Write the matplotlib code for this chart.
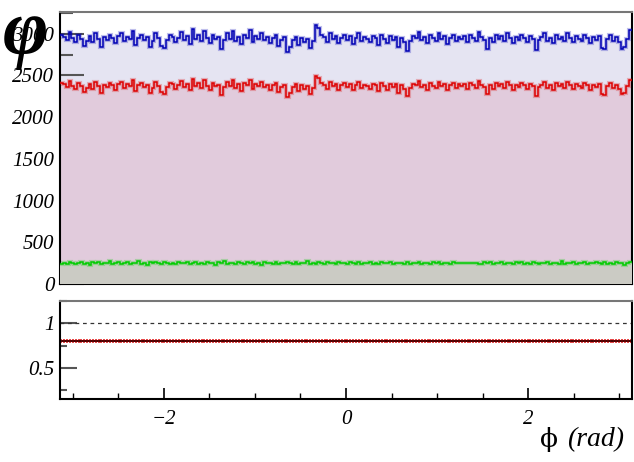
import numpy as np
import matplotlib
matplotlib.use("Agg")
import matplotlib.pyplot as plt
from matplotlib.ticker import MultipleLocator

# bin contents (200 bins over -pi..pi)
blue = [
    2990, 2965, 2927, 3015, 2953, 2903, 2990, 2940, 2853, 2915, 2977, 2903, 3003, 2940, 2840, 2965, 2927, 2990, 2953, 2890,
    2977, 3003, 2915, 2965, 2940, 3027, 2865, 2953, 2990, 2927, 2965, 2835, 2915, 3003, 2953, 2853, 2825, 2927, 2990, 2965,
    2903, 2953, 3015, 2927, 2977, 2877, 3053, 2940, 2990, 2915, 3027, 2953, 2890, 2990, 2940, 2965, 2815, 2927, 3003, 2940,
    3027, 2915, 2965, 2877, 2990, 2953, 3040, 2903, 2977, 2940, 3003, 2927, 2965, 2890, 2953, 2990, 2853, 2927, 2965, 2775,
    2840, 2927, 2965, 2865, 2953, 2903, 2940, 2827, 2915, 3100, 3065, 2990, 2965, 2903, 3003, 2940, 2977, 2890, 2953, 2990,
    2927, 2977, 2877, 2953, 3003, 2915, 2965, 2940, 2903, 2977, 2953, 2865, 2990, 2940, 2890, 2977, 2927, 2965, 2840, 2953,
    2903, 2790, 2915, 2977, 2953, 3015, 2927, 2965, 2890, 2990, 2953, 2915, 3003, 2940, 2977, 2877, 2953, 2990, 2915, 2965,
    2940, 2977, 2903, 2990, 2953, 2915, 3015, 2965, 2927, 2820, 2953, 2903, 2990, 2940, 2977, 2915, 3003, 2953, 2890, 2965,
    2927, 2990, 2953, 2903, 2977, 2940, 2800, 2927, 2965, 3003, 2915, 2953, 2890, 2990, 2940, 2965, 2915, 3003, 2953, 2903,
    2977, 2940, 2915, 2990, 2953, 2890, 2965, 2927, 2977, 2830, 2815, 2940, 2990, 2915, 2965, 2903, 2820, 2840, 2940, 3040,
]
red = [
    2410, 2392, 2358, 2432, 2378, 2342, 2412, 2368, 2302, 2350, 2400, 2340, 2418, 2372, 2290, 2388, 2360, 2412, 2380, 2330,
    2400, 2420, 2350, 2392, 2370, 2440, 2310, 2380, 2410, 2360, 2388, 2286, 2352, 2422, 2378, 2300, 2278, 2360, 2408, 2392,
    2340, 2382, 2430, 2358, 2400, 2320, 2460, 2370, 2412, 2352, 2440, 2378, 2330, 2408, 2372, 2390, 2270, 2360, 2420, 2370,
    2440, 2350, 2392, 2318, 2410, 2380, 2450, 2340, 2400, 2370, 2420, 2360, 2388, 2330, 2382, 2410, 2300, 2360, 2390, 2240,
    2290, 2360, 2392, 2310, 2380, 2340, 2370, 2280, 2350, 2498, 2470, 2410, 2388, 2340, 2420, 2370, 2400, 2330, 2380, 2410,
    2360, 2400, 2320, 2380, 2420, 2350, 2390, 2370, 2340, 2400, 2380, 2310, 2410, 2370, 2330, 2402, 2360, 2392, 2290, 2380,
    2340, 2250, 2350, 2400, 2380, 2430, 2360, 2390, 2330, 2410, 2378, 2350, 2420, 2370, 2400, 2320, 2380, 2410, 2350, 2392,
    2370, 2400, 2340, 2410, 2380, 2350, 2430, 2390, 2360, 2275, 2380, 2340, 2412, 2370, 2400, 2350, 2420, 2380, 2330, 2390,
    2360, 2410, 2380, 2340, 2400, 2370, 2258, 2360, 2390, 2420, 2350, 2380, 2330, 2410, 2370, 2392, 2350, 2420, 2380, 2340,
    2400, 2370, 2350, 2410, 2380, 2330, 2390, 2360, 2400, 2282, 2270, 2370, 2410, 2350, 2390, 2340, 2275, 2290, 2370, 2450,
]
green = [
    242, 252, 236, 262, 248, 240, 256, 268, 244, 252, 232, 258, 250, 264, 240, 254, 246, 270, 238, 252,
    260, 244, 250, 266, 238, 256, 248, 276, 242, 252, 228, 258, 246, 262, 250, 240, 268, 254, 244, 256,
    238, 264, 250, 246, 258, 234, 252, 268, 244, 256, 240, 262, 248, 254, 232, 260, 246, 270, 242, 252,
    256, 240, 266, 248, 238, 258, 250, 264, 244, 254, 232, 262, 248, 256, 242, 268, 240, 252, 246, 258,
    250, 242, 264, 236, 254, 246, 278, 244, 256, 240, 262, 250, 238, 266, 248, 254, 242, 260, 246, 252,
    240, 264, 250, 244, 258, 234, 256, 248, 266, 242, 252, 238, 260, 250, 246, 264, 240, 254, 248, 256,
    244, 262, 238, 252, 248, 266, 242, 256, 250, 240, 258, 246, 268, 236, 254, 250, 244, 260, 248, 252,
    252, 252, 254, 252, 250, 252, 244, 240, 258, 248, 264, 238, 252, 246, 260, 242, 256, 250, 234, 262,
    248, 258, 244, 252, 240, 266, 250, 242, 256, 246, 262, 238, 254, 250, 244, 272, 240, 256, 248, 258,
    242, 254, 248, 264, 236, 252, 246, 260, 250, 242, 268, 244, 254, 238, 262, 248, 256, 228, 246, 260,
]

blue = np.array(blue, dtype=float)
red = np.array(red, dtype=float)
green = np.array(green, dtype=float)
edges = np.linspace(-np.pi, np.pi, len(blue) + 1)
centers = 0.5 * (edges[1:] + edges[:-1])
halfw = 0.5 * (edges[1] - edges[0])

# ratio with poisson errors of both histograms
ratio = red / blue
ratio_err = ratio * np.sqrt(1 / red + 1 / blue)

serif = ["Liberation Serif", "DejaVu Serif"]

fig = plt.figure(figsize=(6.34, 4.62), dpi=100)
ax = fig.add_axes([60 / 634, 1 - 284 / 462, 572 / 634, 272 / 462])
rx = fig.add_axes([60 / 634, 1 - 399 / 462, 572 / 634, 98 / 462])

# filled histograms drawn on top of each other
ax.stairs(blue, edges, fill=True, color="#e5e4f2", zorder=1)
ax.stairs(red, edges, fill=True, color="#e1cbdc", zorder=2)
ax.stairs(green, edges, fill=True, color="#cbcbc4", zorder=3)
for vals, col, z in [(blue, "#0000b4", 4), (red, "#dd0000", 5), (green, "#00cc00", 6)]:
    ax.stairs(vals, edges, baseline=None, color=col, lw=3.0, alpha=0.25, zorder=z)
    ax.stairs(vals, edges, baseline=None, color=col, lw=1.1, zorder=z)

ax.set_xlim(-np.pi, np.pi)
ax.set_ylim(0, 3260)
ax.yaxis.set_major_locator(MultipleLocator(500))
ax.yaxis.set_minor_locator(MultipleLocator(250))
ax.xaxis.set_major_locator(MultipleLocator(2))
ax.xaxis.set_minor_locator(MultipleLocator(0.5))
ax.tick_params(axis="x", which="major", direction="in", length=8, width=1.2, labelbottom=False)
ax.tick_params(axis="x", which="minor", direction="in", length=4, width=1)
ax.tick_params(axis="y", which="major", direction="in", length=17, width=1.5, color="#555555", pad=4)
ax.tick_params(axis="y", which="minor", direction="in", length=9, width=1.5, color="#555555")
for lab in ax.get_yticklabels():
    lab.set_fontfamily(serif)
    lab.set_fontstyle("italic")
    lab.set_fontsize(15)
ax.spines["top"].set_color("#777777")
for s in ax.spines.values():
    s.set_linewidth(1.5)

# ratio panel
rx.axhline(1.0, color="#333333", lw=0.9, ls=(0, (3, 3)))
rx.errorbar(centers, ratio, yerr=ratio_err, xerr=halfw, fmt="none",
            ecolor="#dd0000", elinewidth=1.2, alpha=0.85)
rx.plot(centers, ratio, ls="none", marker="_", ms=2.5, mew=1.2, color="#440000")
rx.set_xlim(-np.pi, np.pi)
rx.set_ylim(0.147, 1.254)
rx.yaxis.set_major_locator(MultipleLocator(0.5))
rx.yaxis.set_minor_locator(MultipleLocator(0.25))
rx.xaxis.set_major_locator(MultipleLocator(2))
rx.xaxis.set_minor_locator(MultipleLocator(0.5))
rx.tick_params(axis="x", which="major", direction="in", length=8, width=1.2, pad=8)
rx.tick_params(axis="x", which="minor", direction="in", length=4, width=1)
rx.tick_params(axis="y", which="major", direction="in", length=12, width=1.5, color="#555555", pad=4)
rx.tick_params(axis="y", which="minor", direction="in", length=5, width=1.5, color="#555555")
rx.set_yticks([0.5, 1.0])
rx.set_yticklabels(["0.5", "1"])
rx.set_xticks([-2, 0, 2])
rx.set_xticklabels(["\u22122", "0", "2"])
for lab in rx.get_yticklabels() + rx.get_xticklabels():
    lab.set_fontfamily(serif)
    lab.set_fontstyle("italic")
    lab.set_fontsize(15)
rx.spines["top"].set_color("#777777")
for s in rx.spines.values():
    s.set_linewidth(1.5)

# titles
fig.text(3 / 634, 1 + 1 / 462, "\u03c6", family=serif, style="italic", weight="bold",
         fontsize=56, va="top", ha="left")
fig.text(558 / 634, 1 - 440 / 462, "\u03d5", family=["DejaVu Serif"], fontsize=19,
         va="center", ha="right")
fig.text(624 / 634, 1 - 440 / 462, "(rad)", family=serif, style="italic", fontsize=20,
         va="center", ha="right")

fig.savefig("out.png", dpi=100)
